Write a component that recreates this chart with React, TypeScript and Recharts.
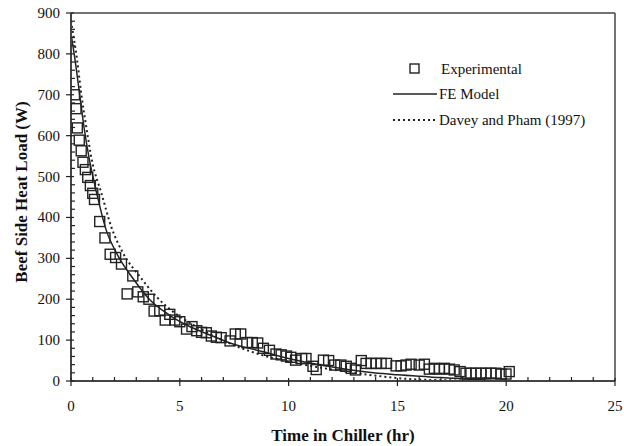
import { ComposedChart, Scatter, Line, XAxis, YAxis, ReferenceLine } from 'recharts';

// time in chiller (hr), beef side heat load (W)
const experimental: [number, number][] = [
  [0.16, 700], [0.23, 666], [0.29, 619], [0.38, 589], [0.47, 563],
  [0.55, 535], [0.66, 517], [0.77, 498], [0.89, 478], [1.0, 459], [1.08, 444],
  [1.32, 390], [1.56, 350], [1.8, 310], [2.05, 302], [2.32, 286], [2.58, 213],
  [2.84, 257], [3.07, 218], [3.32, 206], [3.58, 200], [3.82, 171], [4.08, 172],
  [4.33, 149], [4.54, 163], [4.77, 149], [5.0, 145], [5.31, 127], [5.56, 133],
  [5.78, 123], [6.0, 119], [6.22, 118], [6.45, 110], [6.68, 107], [6.9, 106],
  [7.31, 98], [7.55, 115], [7.8, 115], [8.08, 94], [8.33, 94], [8.58, 93],
  [8.84, 80], [9.12, 75], [9.42, 66], [9.66, 64], [9.9, 61], [10.1, 58],
  [10.32, 51], [10.6, 55], [10.8, 55], [11.12, 36], [11.27, 28], [11.6, 51],
  [11.84, 50], [12.12, 39], [12.4, 39], [12.65, 36], [12.88, 31], [13.07, 27],
  [13.34, 50], [13.56, 43], [13.79, 43], [14.02, 43], [14.25, 43], [14.5, 43],
  [14.94, 37], [15.17, 37], [15.4, 39], [15.63, 41], [16.0, 39], [16.24, 41],
  [16.47, 29], [16.7, 31], [16.93, 29], [17.16, 31], [17.39, 29], [17.61, 27],
  [17.88, 23], [18.15, 19], [18.38, 19], [18.61, 19], [18.84, 19], [19.07, 19],
  [19.3, 19], [19.53, 19], [19.76, 17], [19.99, 17], [20.14, 23],
];

const feModel: [number, number][] = [
  [0, 850], [0.2, 780], [0.4, 700], [0.6, 620], [0.85, 540], [1.2, 455],
  [1.6, 372], [2.1, 312], [2.9, 247], [3.6, 200], [4.5, 162], [5.5, 132],
  [6.5, 110], [7.3, 93], [8.8, 72], [10, 55], [11, 44], [12.3, 32],
  [13.9, 20], [15, 15], [16.5, 10], [18, 5], [20, 1],
];

const daveyPham: [number, number][] = [
  [0, 880], [0.28, 785], [0.47, 703], [0.7, 622], [0.96, 540], [1.4, 459],
  [1.85, 377], [2.4, 312], [3.17, 255], [3.93, 206], [4.7, 169], [5.5, 141],
  [6.5, 112], [7.75, 82], [9, 60], [10.5, 42], [12, 28], [13.4, 17],
  [14.5, 10], [15.5, 5], [17, 2], [18.5, 1], [20, 0],
];

const xMajorTicks = [0, 5, 10, 15, 20, 25];
const yMajorTicks = [0, 100, 200, 300, 400, 500, 600, 700, 800, 900];
const xMinorStep = 1;
const yMinorStep = 20;

const toRows = (pts: [number, number][]) => pts.map(([t, w]) => ({ t, w }));

const range = (max: number, step: number) => {
  const out: number[] = [];
  for (let v = 0; v <= max + 1e-9; v += step) out.push(Math.round(v * 100) / 100);
  return out;
};

const FONT = '"Liberation Serif", "Times New Roman", serif';
const INK = '#222';

const XTick = ({ x, y, payload }: any) => {
  const major = xMajorTicks.includes(payload.value);
  return (
    <g>
      {major ? (
        <line x1={x} x2={x} y1={y - 3} y2={y + 5} stroke={INK} strokeWidth={1.2} />
      ) : (
        <line x1={x} x2={x} y1={y} y2={y - 4} stroke={INK} strokeWidth={1.2} />
      )}
      {major && (
        <text x={x} y={y + 30} textAnchor="middle" fontFamily={FONT} fontSize={15} fill="#111">
          {payload.value}
        </text>
      )}
    </g>
  );
};

const YTick = ({ x, y, payload }: any) => {
  const major = yMajorTicks.includes(payload.value);
  return (
    <g>
      {major ? (
        <line x1={x - 5} x2={x + 3} y1={y} y2={y} stroke={INK} strokeWidth={1.2} />
      ) : (
        <line x1={x} x2={x + 4} y1={y} y2={y} stroke={INK} strokeWidth={1.2} />
      )}
      {major && (
        <text x={x - 11} y={y + 5} textAnchor="end" fontFamily={FONT} fontSize={15} fill="#111">
          {payload.value}
        </text>
      )}
    </g>
  );
};

const Square = ({ cx, cy }: any) => (
  <rect x={cx - 5} y={cy - 5} width={10} height={10} fill="none" stroke={INK} strokeWidth={1.4} />
);

const YTitle = () => (
  <text
    x={21}
    y={192}
    transform="rotate(-90 21 192)"
    textAnchor="middle"
    dominantBaseline="central"
    fontFamily={FONT}
    fontSize={17}
    fontWeight="bold"
    fill="#111"
  >
    Beef Side Heat Load (W)
  </text>
);

const XTitle = () => (
  <text x={343} y={441} textAnchor="middle" fontFamily={FONT} fontSize={17} fontWeight="bold" fill="#111">
    Time in Chiller (hr)
  </text>
);

function LegendBox() {
  return (
    <svg width={624} height={446} style={{ position: 'absolute', left: 0, top: 0, pointerEvents: 'none' }}>
      <rect x={410} y={64} width={9} height={9} fill="none" stroke={INK} strokeWidth={1.4} />
      <text x={441} y={74} fontFamily={FONT} fontSize={15} fill="#111">Experimental</text>
      <line x1={393} x2={437} y1={94} y2={94} stroke={INK} strokeWidth={1.5} />
      <text x={439} y={99} fontFamily={FONT} fontSize={15} fill="#111">FE Model</text>
      <line x1={393} x2={437} y1={120} y2={120} stroke={INK} strokeWidth={2} strokeDasharray="2 3" />
      <text x={439} y={125} fontFamily={FONT} fontSize={15} fill="#111">Davey and Pham (1997)</text>
    </svg>
  );
}

export default function App() {
  return (
    <div style={{ position: 'relative', width: 624, height: 446, background: '#fff' }}>
      <style>{'body{margin:0}'}</style>
      <ComposedChart width={624} height={446} margin={{ top: 13, right: 9, left: 0, bottom: 0 }}>
        <XAxis
          type="number"
          dataKey="t"
          domain={[0, 25]}
          ticks={range(25, xMinorStep)}
          interval={0}
          tickSize={0}
          tickMargin={0}
          tickLine={false}
          tick={<XTick />}
          height={65}
          axisLine={{ stroke: '#444', strokeWidth: 2 }}
          allowDataOverflow
          label={<XTitle />}
        />
        <YAxis
          type="number"
          dataKey="w"
          domain={[0, 900]}
          ticks={range(900, yMinorStep)}
          interval={0}
          tickSize={0}
          tickMargin={0}
          tickLine={false}
          tick={<YTick />}
          width={71}
          axisLine={{ stroke: '#444', strokeWidth: 2 }}
          allowDataOverflow
          label={<YTitle />}
        />
        <ReferenceLine y={900} stroke="#444" strokeWidth={1.5} />
        <ReferenceLine x={25} stroke="#444" strokeWidth={1.5} />
        <Line
          data={toRows(daveyPham)}
          dataKey="w"
          type="monotone"
          stroke={INK}
          strokeWidth={2}
          strokeDasharray="2 3"
          dot={false}
          isAnimationActive={false}
        />
        <Line
          data={toRows(feModel)}
          dataKey="w"
          type="monotone"
          stroke={INK}
          strokeWidth={1.5}
          dot={false}
          isAnimationActive={false}
        />
        <Scatter data={toRows(experimental)} dataKey="w" shape={<Square />} isAnimationActive={false} />
      </ComposedChart>
      <LegendBox />
    </div>
  );
}
